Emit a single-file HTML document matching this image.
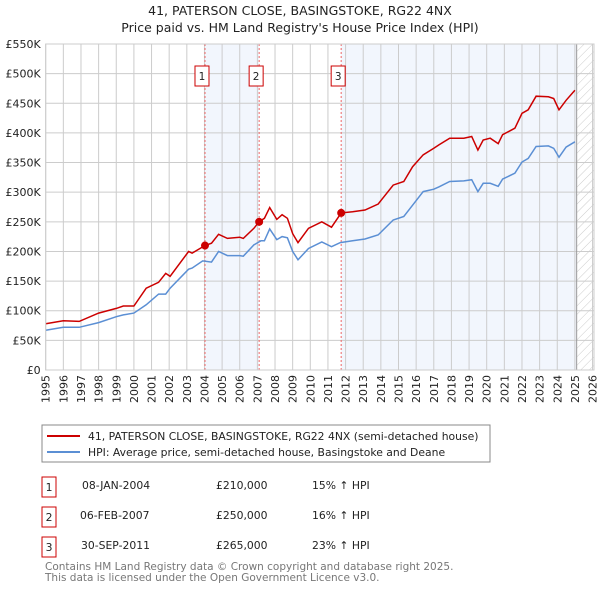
<!DOCTYPE html>
<html><head><meta charset="utf-8"><style>
body{margin:0;background:#fff;font-family:"Liberation Sans","DejaVu Sans",sans-serif;}
svg text{font-family:"DejaVu Sans","Liberation Sans",sans-serif;}
</style></head><body>
<svg id="chart" width="600" height="590" viewBox="0 0 600 590" xmlns="http://www.w3.org/2000/svg">
<defs><pattern id="hatch" width="6" height="6" patternUnits="userSpaceOnUse" patternTransform="rotate(45)"><line x1="0" y1="0" x2="0" y2="6" stroke="#ccc" stroke-width="1"/></pattern></defs>
<text x="300" y="15" text-anchor="middle" font-size="12.5" fill="#222">41, PATERSON CLOSE, BASINGSTOKE, RG22 4NX</text>
<text x="300" y="32" text-anchor="middle" font-size="12.5" fill="#222">Price paid vs. HM Land Registry's House Price Index (HPI)</text>
<g id="plot"></g>
<g>
<rect x="42" y="425" width="448" height="37" fill="#fff" stroke="#888"/>
<line x1="47" y1="436" x2="80" y2="436" stroke="#cc0000" stroke-width="2"/>
<text x="88" y="440" font-size="10.8" fill="#222">41, PATERSON CLOSE, BASINGSTOKE, RG22 4NX (semi-detached house)</text>
<line x1="47" y1="452" x2="80" y2="452" stroke="#5b8fd4" stroke-width="2"/>
<text x="88" y="456" font-size="10.8" fill="#222">HPI: Average price, semi-detached house, Basingstoke and Deane</text>
</g>
<g font-size="10.8" fill="#222">
<rect x="42" y="477" width="14" height="20" fill="#fff" stroke="#cc0000"/><text x="49" y="491" text-anchor="middle">1</text>
<text x="82" y="489">08-JAN-2004</text><text x="216" y="489">£210,000</text><text x="312" y="489">15% ↑ HPI</text>
<rect x="42" y="507" width="14" height="20" fill="#fff" stroke="#cc0000"/><text x="49" y="521" text-anchor="middle">2</text>
<text x="80" y="519">06-FEB-2007</text><text x="216" y="519">£250,000</text><text x="312" y="519">16% ↑ HPI</text>
<rect x="42" y="537" width="14" height="20" fill="#fff" stroke="#cc0000"/><text x="49" y="551" text-anchor="middle">3</text>
<text x="81" y="549">30-SEP-2011</text><text x="216" y="549">£265,000</text><text x="312" y="549">23% ↑ HPI</text>
</g>
<text x="45" y="570" font-size="10.5" fill="#777">Contains HM Land Registry data © Crown copyright and database right 2025.</text>
<text x="45" y="581" font-size="10.5" fill="#777">This data is licensed under the Open Government Licence v3.0.</text>
</svg>
<script>
const yTicks=[0,50,100,150,200,250,300,350,400,450,500,550];
const yTickLabels=["£0","£50K","£100K","£150K","£200K","£250K","£300K","£350K","£400K","£450K","£500K","£550K"];
const xYears=[1995,1996,1997,1998,1999,2000,2001,2002,2003,2004,2005,2006,2007,2008,2009,2010,2011,2012,2013,2014,2015,2016,2017,2018,2019,2020,2021,2022,2023,2024,2025,2026];
const hpiDates=[1995.0,1996.0,1996.9,1998.0,1999.0,1999.4,2000.0,2000.7,2001.4,2001.8,2002.05,2003.1,2003.3,2003.9,2004.4,2004.8,2005.3,2006.0,2006.2,2006.8,2007.2,2007.4,2007.7,2008.1,2008.4,2008.7,2009.0,2009.3,2009.9,2010.65,2011.2,2011.7,2012.4,2013.1,2013.85,2014.7,2015.3,2015.8,2016.4,2017.0,2017.3,2017.9,2018.7,2019.15,2019.5,2019.8,2020.2,2020.65,2020.9,2021.6,2022.0,2022.35,2022.8,2023.5,2023.8,2024.1,2024.5,2025.0];
const hpiValues=[67,72,72,80,90,93,96,110,128,128,138,170,172,184,182,200,193,193,192,211,218,218,238,220,225,223,200,186,205,216,208,215,218,221,228,253,259,278,301,305,309,318,319,321,301,315,315,310,322,332,351,357,377,378,374,359,376,385];
const priceDates=[1995.0,1996.0,1996.9,1998.0,1999.0,1999.4,2000.0,2000.7,2001.4,2001.8,2002.05,2003.1,2003.3,2004.03,2004.4,2004.8,2005.3,2006.0,2006.2,2006.8,2007.1,2007.4,2007.7,2008.1,2008.4,2008.7,2009.0,2009.3,2009.9,2010.65,2011.2,2011.75,2012.4,2013.1,2013.85,2014.7,2015.3,2015.8,2016.4,2017.0,2017.3,2017.9,2018.7,2019.15,2019.5,2019.8,2020.2,2020.65,2020.9,2021.6,2022.0,2022.35,2022.8,2023.5,2023.8,2024.1,2024.5,2025.0];
const priceValues=[78,83,82,96,104,108,108,138,148,163,158,200,197,210,214,229,222,224,222,239,250,256,274,254,262,256,230,215,239,250,241,265,267,270,280,312,318,343,363,374,380,391,391,394,371,388,391,382,397,408,433,439,462,461,458,439,455,472];
const saleDates=[2004.03,2007.1,2011.75];
const salePrices=[210,250,265];
const saleLabels=["1","2","3"];

const L=45.7,R=594,T=44,B=370,X0=1995,PX=17.64,VMAX=550,END=2025.1;
const xs=y=>L+(y-X0)*PX;
const ys=v=>B-v*(B-T)/VMAX;
const NS="http://www.w3.org/2000/svg";
const g=document.getElementById('plot');
function mk(t,a,p){const e=document.createElementNS(NS,t);for(const k in a)e.setAttribute(k,a[k]);(p||g).appendChild(e);return e;}

let s1=mk('rect',{x:xs(saleDates[0]),y:T,width:xs(saleDates[1])-xs(saleDates[0]),height:B-T,fill:'#f2f6fd'});


let s2=mk('rect',{x:xs(saleDates[2]),y:T,width:xs(END)-xs(saleDates[2]),height:B-T,fill:'#f2f6fd'});


let h=mk('rect',{x:xs(END),y:T,width:R-xs(END),height:B-T,fill:'url(#hatch)'});



yTicks.forEach((v,i)=>{
  let l=mk('line',{x1:L,x2:R,y1:ys(v),y2:ys(v),stroke:'#ccc','stroke-width':1});
  
  
  let t=mk('text',{x:L-5,y:ys(v)+4,'text-anchor':'end','font-size':'11',fill:'#222'});
  t.textContent=yTickLabels[i];
  
  
});
xYears.forEach(yr=>{
  let l=mk('line',{x1:xs(yr),x2:xs(yr),y1:T,y2:B,stroke:'#ccc','stroke-width':1});
  
  
  let t=mk('text',{x:0,y:0,'text-anchor':'end','font-size':'11',fill:'#222',transform:`translate(${xs(yr)+4},${B+5}) rotate(-90)`});
  t.textContent=yr;
  
  
});
let el=mk('line',{x1:xs(END),x2:xs(END),y1:T,y2:B,stroke:'#999','stroke-width':1});



saleDates.forEach((d,i)=>{
  let l=mk('line',{x1:xs(d),x2:xs(d),y1:T,y2:B,stroke:'#e66','stroke-width':1,'stroke-dasharray':'2,2'});
  
  
  let b=mk('rect',{x:xs(d)-10,y:66,width:14,height:20,fill:'#fff',stroke:'#cc0000'});
  
  
  let t=mk('text',{x:xs(d)-3,y:80,'text-anchor':'middle','font-size':'10.5',fill:'#222'});
  t.textContent=saleLabels[i];
  
  
});

function line(ds,vs){return ds.map((d,i)=>(i?'L':'M')+xs(d).toFixed(1)+','+ys(vs[i]).toFixed(1)).join('');}
let hp=mk('path',{d:line(hpiDates,hpiValues),fill:'none',stroke:'#5b8fd4','stroke-width':1.5});


let pp=mk('path',{d:line(priceDates,priceValues),fill:'none',stroke:'#cc0000','stroke-width':1.5});


saleDates.forEach((d,i)=>{
  let c=mk('circle',{cx:xs(d),cy:ys(salePrices[i]),r:4,fill:'#cc0000'});
  
  
});
let bd=mk('rect',{x:L,y:T,width:R-L,height:B-T,fill:'none',stroke:'#ccc'});


</script>
</body></html>
